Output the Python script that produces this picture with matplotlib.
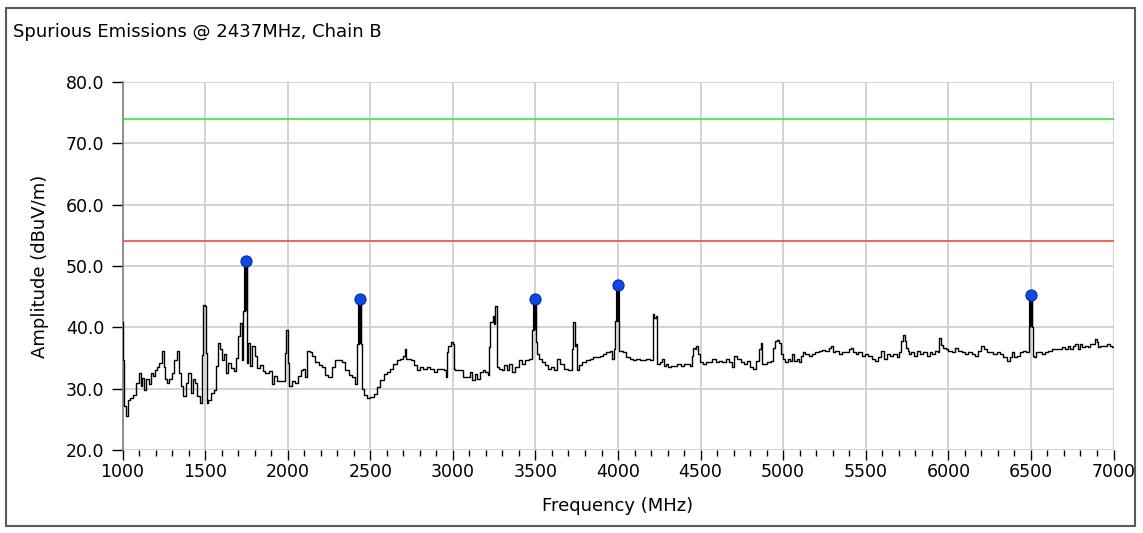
import matplotlib
matplotlib.use('Agg')
import matplotlib.pyplot as plt
from matplotlib.ticker import MultipleLocator, FormatStrFormatter
from matplotlib.patches import Rectangle

freq = [1000, 1005, 1012, 1030, 1040, 1055, 1074, 1090, 1104, 1115, 1125, 1140, 1150, 1165, 1175,
        1190, 1205, 1215, 1230, 1245, 1255, 1265, 1275, 1290, 1305, 1320, 1335, 1345, 1360, 1377,
        1390, 1407, 1420, 1435, 1447, 1460, 1475, 1482, 1495, 1500, 1508, 1515, 1525, 1545, 1566,
        1570, 1583, 1597, 1607, 1618, 1632, 1645, 1669, 1680, 1694, 1707, 1717, 1727, 1736, 1750,
        1755, 1765, 1775, 1793, 1810, 1824, 1845, 1855, 1876, 1897, 1911, 1928, 1948, 1979, 1988,
        1996, 2004, 2017, 2031, 2052, 2072, 2087, 2100, 2106, 2126, 2140, 2157, 2177, 2197, 2217,
        2237, 2254, 2278, 2298, 2318, 2338, 2359, 2379, 2399, 2415, 2419, 2429, 2437, 2445, 2454,
        2470, 2490, 2510, 2530, 2551, 2571, 2591, 2610, 2630, 2651, 2671, 2691, 2705, 2713, 2721,
        2737, 2758, 2772, 2792, 2812, 2832, 2853, 2873, 2893, 2913, 2933, 2954, 2960, 2968, 2978,
        2994, 3004, 3008, 3024, 3048, 3069, 3095, 3109, 3125, 3141, 3157, 3173, 3187, 3207, 3217,
        3221, 3233, 3248, 3254, 3262, 3268, 3288, 3302, 3318, 3334, 3349, 3369, 3389, 3409, 3429,
        3450, 3476, 3484, 3500, 3504, 3514, 3530, 3551, 3565, 3585, 3605, 3621, 3641, 3658, 3682,
        3712, 3726, 3734, 3741, 3750, 3758, 3774, 3794, 3818, 3838, 3859, 3879, 3899, 3919, 3939,
        3960, 3970, 3976, 3984, 4000, 4005, 4010, 4020, 4040, 4061, 4081, 4101, 4121, 4141, 4162,
        4182, 4206, 4214, 4226, 4234, 4242, 4262, 4274, 4282, 4298, 4308, 4328, 4348, 4369, 4389,
        4409, 4429, 4443, 4449, 4460, 4470, 4480, 4490, 4504, 4520, 4540, 4561, 4581, 4601, 4621,
        4641, 4666, 4682, 4698, 4712, 4732, 4753, 4773, 4793, 4807, 4823, 4843, 4860, 4868, 4876,
        4894, 4914, 4934, 4940, 4955, 4969, 4981, 4995, 5004, 5020, 5034, 5048, 5060, 5074, 5088,
        5100, 5114, 5124, 5145, 5165, 5185, 5205, 5225, 5245, 5265, 5285, 5295, 5305, 5325, 5345,
        5365, 5386, 5406, 5416, 5430, 5446, 5466, 5486, 5506, 5526, 5546, 5566, 5586, 5602, 5622,
        5637, 5657, 5677, 5697, 5711, 5719, 5731, 5743, 5748, 5758, 5768, 5782, 5798, 5819, 5839,
        5859, 5879, 5895, 5909, 5929, 5940, 5950, 5960, 5976, 5990, 6010, 6030, 6050, 6071, 6091,
        6111, 6131, 6151, 6171, 6192, 6206, 6222, 6242, 6262, 6282, 6302, 6323, 6343, 6363, 6383,
        6393, 6407, 6427, 6444, 6464, 6480, 6492, 6500, 6508, 6514, 6520, 6536, 6556, 6576, 6596,
        6616, 6636, 6656, 6676, 6696, 6716, 6730, 6744, 6760, 6776, 6790, 6804, 6820, 6836, 6850,
        6864, 6880, 6896, 6904, 6912, 6930, 6950, 6970, 6984, 7000]
amp = [40.9, 34.7, 27.1, 25.5, 28.2, 28.5, 29.0, 30.9, 32.5, 30.4, 31.7, 29.8, 31.5, 30.7, 32.5,
       32.0, 33.1, 33.6, 34.2, 36.1, 33.6, 31.5, 30.9, 31.5, 32.5, 34.7, 36.1, 32.5, 30.4, 28.8,
       30.9, 32.5, 29.3, 31.5, 30.9, 28.8, 27.7, 35.5, 43.7, 43.4, 35.8, 27.7, 28.2, 29.3, 29.8,
       33.7, 37.5, 36.4, 34.7, 35.6, 32.6, 34.2, 33.4, 32.8, 35.0, 38.6, 40.7, 34.7, 42.6, 50.8,
       34.2, 37.5, 33.7, 36.9, 35.3, 33.4, 33.9, 32.8, 32.6, 32.8, 30.7, 32.0, 31.2, 31.2, 35.8,
       39.6, 34.2, 30.4, 31.2, 30.9, 32.0, 33.1, 33.2, 31.9, 36.2, 35.9, 35.4, 34.3, 33.8, 33.5,
       32.2, 31.9, 33.5, 34.6, 34.6, 34.3, 33.0, 32.2, 31.9, 30.8, 37.3, 37.3, 44.6, 37.3, 30.0,
       28.9, 28.4, 28.6, 29.2, 30.3, 31.4, 32.4, 32.7, 33.2, 34.1, 34.6, 34.9, 35.4, 36.5, 34.9,
       34.9, 34.6, 33.8, 33.0, 33.5, 33.2, 33.5, 33.2, 32.7, 33.2, 33.2, 33.0, 31.9, 35.9, 37.0,
       37.6, 37.3, 33.2, 33.0, 33.0, 31.9, 31.9, 32.7, 31.4, 32.4, 31.6, 32.7, 33.0, 32.7, 32.2,
       36.8, 40.8, 41.9, 40.5, 43.5, 33.5, 33.2, 33.0, 33.8, 33.0, 34.1, 32.7, 33.5, 34.6, 34.1,
       34.6, 34.9, 39.5, 44.6, 37.6, 35.7, 34.9, 34.3, 33.8, 33.2, 33.5, 33.0, 34.9, 34.1, 33.2,
       33.0, 36.5, 40.8, 37.0, 37.3, 33.0, 33.8, 34.3, 34.6, 34.9, 35.1, 35.1, 35.4, 35.7, 35.9,
       36.2, 34.9, 36.5, 41.1, 46.9, 41.1, 36.2, 36.2, 35.9, 35.1, 34.9, 34.6, 34.9, 34.6, 34.6,
       34.9, 34.6, 42.2, 41.6, 41.9, 34.0, 34.3, 34.8, 33.7, 34.0, 33.5, 33.7, 33.7, 34.0, 33.7,
       34.0, 34.0, 33.7, 35.3, 36.7, 36.4, 37.0, 35.6, 34.3, 34.0, 34.3, 34.3, 34.8, 34.3, 34.5,
       34.3, 34.8, 34.3, 33.5, 35.3, 34.8, 34.3, 34.0, 34.5, 33.5, 33.2, 34.5, 36.4, 37.5, 34.0,
       34.0, 34.3, 34.5, 36.7, 37.8, 38.0, 37.5, 35.6, 34.8, 34.3, 34.8, 34.5, 35.6, 34.5, 34.8,
       34.3, 35.3, 35.9, 35.6, 35.3, 35.6, 35.9, 36.1, 36.3, 36.1, 36.7, 37.0, 35.9, 36.1, 35.6,
       35.9, 35.9, 36.4, 36.7, 35.9, 35.6, 35.9, 35.3, 35.6, 35.3, 34.8, 34.5, 35.1, 36.1, 34.8,
       35.6, 35.3, 35.6, 35.1, 35.9, 37.8, 38.8, 37.8, 36.7, 36.1, 35.6, 35.9, 35.3, 36.1, 35.6,
       35.9, 35.3, 35.9, 35.6, 36.1, 35.9, 38.3, 37.2, 36.7, 36.4, 36.1, 35.9, 36.7, 36.1, 35.9,
       35.6, 35.9, 35.6, 35.3, 36.1, 37.0, 36.4, 35.9, 35.9, 35.7, 35.9, 35.6, 35.1, 34.5, 35.1,
       35.9, 35.1, 35.3, 35.9, 36.1, 35.9, 40.0, 45.3, 40.0, 35.4, 35.1, 35.9, 35.9, 35.7, 35.9,
       36.2, 36.5, 36.5, 36.5, 36.8, 36.5, 37.0, 36.5, 37.0, 37.3, 36.5, 37.3, 36.8, 37.0, 36.8,
       37.3, 37.3, 38.1, 37.6, 36.8, 37.0, 37.0, 37.3, 37.0, 36.8]

# marked peaks and where the thick part of each spike ends
peak_freq = [1750, 2437, 3500, 4000, 6500]
peak_amp = [50.8, 44.6, 44.6, 46.9, 45.3]
peak_base = [42.6, 37.3, 39.5, 41.1, 40.0]

# limit lines
avg_limit = 54.0
peak_limit = 74.0

fig = plt.figure(figsize=(11.43, 5.33), dpi=100)
ax = fig.add_axes([0.1072, 0.1557, 0.8670, 0.6905])

ax.axhline(peak_limit, color='#3ee03e', lw=1.2, zorder=3)
ax.axhline(avg_limit, color='#f24a3c', lw=1.2, zorder=3)
ax.plot(freq, amp, color='black', lw=1.0, drawstyle='steps-mid', zorder=4)
ax.vlines(peak_freq, peak_base, peak_amp, color='black', lw=3, zorder=4)
ax.plot(peak_freq, peak_amp, 'o', color='#1048e8', mec='#0a2a9a', ms=8, mew=0.8, zorder=5)

ax.set_xlim(1000, 7000)
ax.set_ylim(20, 80)
ax.xaxis.set_major_locator(MultipleLocator(500))
ax.xaxis.set_minor_locator(MultipleLocator(100))
ax.yaxis.set_major_locator(MultipleLocator(10))
ax.yaxis.set_major_formatter(FormatStrFormatter('%.1f'))

ax.grid(True, which='major', color='#cfcfcf', lw=1.3)
ax.set_axisbelow(True)
for side in ['top', 'right', 'bottom']:
    ax.spines[side].set_visible(False)
ax.spines['left'].set_color('#808080')
ax.spines['left'].set_linewidth(1.2)

ax.tick_params(axis='both', which='major', labelsize=12.5, color='black', direction='out')
ax.tick_params(axis='x', which='major', length=7, width=1.0, pad=2)
ax.tick_params(axis='x', which='minor', length=4, width=1.0)
ax.tick_params(axis='y', which='major', length=8, width=1.0, pad=5)

ax.set_xlabel('Frequency (MHz)', fontsize=13, labelpad=12)
ax.set_ylabel('Amplitude (dBuV/m)', fontsize=13, labelpad=12)

fig.text(0.011, 0.94, 'Spurious Emissions @ 2437MHz, Chain B', fontsize=13, ha='left', va='center')

# outer frame round the whole panel
fig.patches.append(Rectangle((0.005, 0.013), 0.988, 0.972, transform=fig.transFigure,
                             fill=False, edgecolor='#5a5a5a', lw=1.5))

fig.savefig('out.png', dpi=100)
